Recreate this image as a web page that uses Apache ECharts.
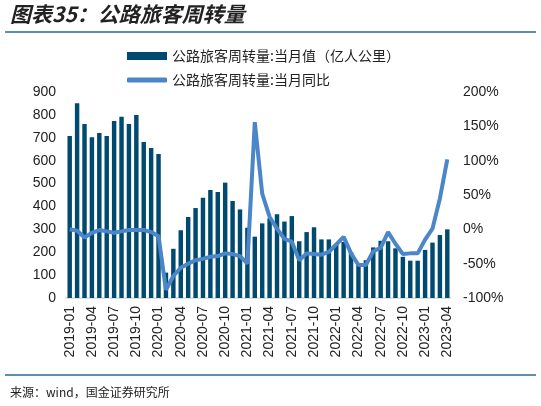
<!DOCTYPE html>
<html>
<head>
<meta charset="utf-8">
<script src="https://cdn.jsdelivr.net/npm/echarts@6/dist/echarts.min.js"></script>
<style>
  html, body { margin: 0; padding: 0; background: #fff; }
  #chart-container { width: 541px; height: 406px; }
</style>
</head>
<body>
<div id="chart-container"></div>
<script>
const startYear = 2019;
const months = [];
for (let i = 0; i < 52; i++) {
  const y = startYear + Math.floor(i / 12);
  const m = (i % 12) + 1;
  months.push(y + "-" + (m < 10 ? "0" + m : m));
}

// 当月值（亿人公里）
const monthValue = [
  708, 851, 760, 702, 721, 708, 773, 792, 760, 800, 682, 655,
  629, 111, 215, 296, 354, 393, 438, 472, 463, 504, 424, 387,
  307, 268, 326, 348, 366, 334, 358, 248, 288, 309, 256, 256,
  236, 245, 200, 150, 165, 221, 250, 248, 217, 180, 163, 163,
  210, 242, 275, 300,
];

// 当月同比（%）
const yoy = [
  0, -2, -12, -5, -1, -3, -5, -3, -1, -1, -1, -4,
  -10, -88, -68, -56, -50, -45, -43, -40, -39, -35, -36, -39,
  -50, 156, 52, 18, 1, -14, -18, -45, -35, -36, -37, -33,
  -22, -11, -35, -52, -52, -32, -27, -4, -21, -36, -35, -35,
  -15, 1, 45, 102,
];

const barName = "公路旅客周转量:当月值（亿人公里）";
const lineName = "公路旅客周转量:当月同比";

const dom = document.getElementById("chart-container");
const myChart = echarts.init(dom, null, { renderer: "canvas" });

const baseFont = "Liberation Sans, Arial, sans-serif";

const option = {
  animation: false,
  textStyle: { fontFamily: baseFont },
  graphic: [
    {
      type: "text",
      left: 10,
      top: 4,
      style: {
        text: "图表35：公路旅客周转量",
        font: "italic bold 21px 'Noto Sans CJK SC'",
        fill: "#222",
      },
    },
    {
      type: "line",
      shape: { x1: 5, y1: 32, x2: 536, y2: 32 },
      style: { stroke: "#2a6a96", lineWidth: 1.5 },
    },
    {
      type: "line",
      shape: { x1: 5, y1: 375, x2: 536, y2: 375 },
      style: { stroke: "#2a6a96", lineWidth: 1.5 },
    },
    {
      type: "text",
      left: 10,
      top: 386,
      style: {
        text: "来源：wind，国金证券研究所",
        font: "12px 'Noto Sans CJK SC'",
        fill: "#222",
      },
    },
  ],
  legend: [
    {
      data: [barName],
      left: 122,
      top: 44,
      icon: "rect",
      itemWidth: 40,
      itemHeight: 8,
      itemGap: 4,
      textStyle: { fontSize: 14, color: "#222", fontFamily: "'Noto Sans CJK SC'" },
    },
    {
      data: [lineName],
      left: 122,
      top: 68,
      icon: "roundRect",
      itemWidth: 40,
      itemHeight: 5,
      textStyle: { fontSize: 14, color: "#222", fontFamily: "'Noto Sans CJK SC'" },
    },
  ],
  grid: { left: 66, right: 90, top: 92, bottom: 108 },
  xAxis: [
    {
      type: "category",
      data: months,
      boundaryGap: true,
      axisLine: { lineStyle: { color: "#d9d9d9", width: 1.5 } },
      axisTick: { show: false },
      axisLabel: {
        interval: 2,
        rotate: 90,
        fontSize: 14,
        color: "#222",
        margin: 8,
      },
    },
  ],
  yAxis: [
    {
      type: "value",
      min: 0,
      max: 900,
      interval: 100,
      splitLine: { show: false },
      axisLine: { show: false },
      axisTick: { show: false },
      axisLabel: { fontSize: 14, color: "#222", margin: 10 },
    },
    {
      type: "value",
      min: -100,
      max: 200,
      interval: 50,
      position: "right",
      splitLine: { show: false },
      axisLine: { show: false },
      axisTick: { show: false },
      axisLabel: { fontSize: 14, color: "#222", margin: 12, formatter: "{value}%" },
    },
  ],
  series: [
    {
      name: barName,
      type: "bar",
      data: monthValue,
      barWidth: "60%",
      color: "#004a70",
      yAxisIndex: 0,
    },
    {
      name: lineName,
      type: "line",
      data: yoy,
      yAxisIndex: 1,
      symbol: "none",
      color: "#4a86c8",
      lineStyle: { width: 4, color: "#4a86c8" },
      z: 3,
    },
  ],
};

myChart.setOption(option);
window.addEventListener("resize", myChart.resize);
</script>
</body>
</html>
